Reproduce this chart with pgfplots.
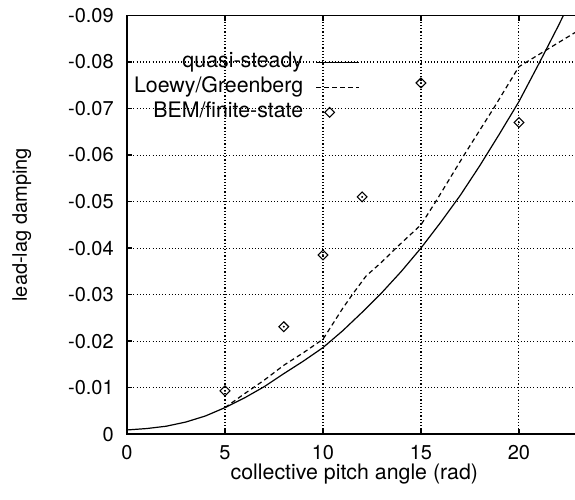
\documentclass[border=0pt]{standalone}
\usepackage{pgfplots}
\pgfplotsset{compat=1.18}
\usepackage{fontspec}
\setmainfont{TeX Gyre Heros}

% lead-lag damping vs collective pitch
\pgfplotstableread{
x      y
0      -0.0009
1      -0.0012
2      -0.0017
3      -0.0026
4      -0.0039
5      -0.0057
6      -0.0078
7      -0.0102
8      -0.0130
9      -0.0157
10     -0.0186
11     -0.0222
12     -0.0262
13     -0.0304
14     -0.0350
15     -0.0400
16     -0.0455
17     -0.0513
18     -0.0577
19     -0.0645
20     -0.0715
21     -0.0795
22     -0.0877
22.5   -0.0920
}\quasisteady

\pgfplotstableread{
x      y
5      -0.0057
6      -0.0087
7      -0.0116
8      -0.0148
9      -0.0175
10     -0.0204
11     -0.0270
11.55  -0.0303
12.2   -0.0340
13     -0.0370
13.8   -0.0403
15     -0.0450
15.8   -0.0503
17.2   -0.0600
18.7   -0.0700
20     -0.0790
23.2   -0.0872
}\loewy

\pgfplotstableread{
x      y
5      -0.0093
8      -0.0231
10     -0.0385
12     -0.0510
15     -0.0755
20     -0.0670
}\bem

\begin{document}
\begin{tikzpicture}
\begin{axis}[
    name=ax,
    scale only axis,
    width=341pt, height=314pt,
    xmin=0, xmax=23.2,
    ymin=-0.09, ymax=0,
    y dir=reverse,
    scaled y ticks=false,
    scaled x ticks=false,
    xtick={0,5,10,15,20},
    xticklabels={0,5,10,15,20},
    ytick={-0.09,-0.08,-0.07,-0.06,-0.05,-0.04,-0.03,-0.02,-0.01,0},
    yticklabels={-0.09,-0.08,-0.07,-0.06,-0.05,-0.04,-0.03,-0.02,-0.01,0},
    tick align=inside,
    major tick length=4pt,
    tick style={black, line width=1.1pt},
    axis line style={line width=1.3pt},
    xmajorgrids, ymajorgrids,
    major grid style={black, line width=0.8pt, dash pattern=on 0.8pt off 1.6pt},
    xticklabel style={font=\fontsize{15}{18}\selectfont, anchor=base, yshift=-18.75pt},
    yticklabel style={font=\fontsize{15}{18}\selectfont, anchor=east, inner sep=0pt, xshift=-9.75pt},
    xlabel={collective pitch angle (rad)},
    ylabel={lead-lag damping},
    every axis x label/.style={at={(axis description cs:0.5,0)}, anchor=base, yshift=-33.75pt,
        font=\fontsize{16}{19}\selectfont},
    every axis y label/.style={at={(axis description cs:-0.2317,0.5)}, rotate=90, anchor=center,
        font=\fontsize{15}{18}\selectfont},
    legend plot pos=right,
    legend cell align=right,
    legend image code/.code={\draw[mark repeat=2,mark phase=2,#1] plot coordinates {(0pt,0pt) (10pt,0pt) (32pt,0pt)};},
    legend style={at={(0.512,0.919)}, anchor=north east, draw=none, fill=none,
        font=\fontsize{16}{19}\selectfont, inner sep=0pt,
        nodes={inner sep=1.4pt, text height=12pt, text depth=4pt},
        /tikz/every odd column/.append style={column sep=8pt}},
]
\addplot[black, line width=0.9pt] table[x=x, y=y] {\quasisteady};
\addlegendentry{quasi-steady}
\addplot[black, line width=0.9pt, dash pattern=on 3.5pt off 2.5pt] table[x=x, y=y] {\loewy};
\addlegendentry{Loewy/Greenberg}
\addplot[black, only marks, mark=square, mark size=2.6pt,
    mark options={rotate=45, solid, line width=0.8pt}] table[x=x, y=y] {\bem};
\addlegendentry{BEM/finite-state}
\addplot[black, only marks, mark=*, mark size=0.5pt, forget plot] table[x=x, y=y] {\bem};
\end{axis}
\pgfresetboundingbox
\useasboundingbox ([shift={(-95.25pt,-48.75pt)}]ax.south west) rectangle ([shift={(336pt,325.6pt)}]ax.south west);
\end{tikzpicture}
\end{document}
